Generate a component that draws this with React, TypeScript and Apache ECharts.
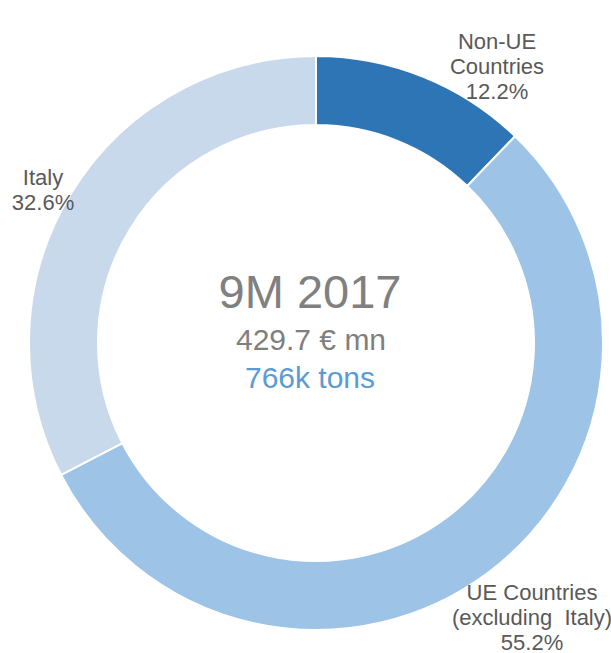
import React, { useEffect, useRef } from "react";
import * as echarts from "echarts";

const categories = ["Non-UE\nCountries", "UE Countries\n(excluding  Italy)", "Italy"];
const shares = [12.2, 55.2, 32.6];
const sliceColors = ["#2E75B6", "#9DC3E6", "#C9D9EC"];
const centerLines = ["9M 2017", "429.7 € mn", "766k tons"];

const labelSpots = [
  [497, 66],
  [532, 617],
  [43, 190],
];

export default function App() {
  const ref = useRef<HTMLDivElement>(null);
  useEffect(() => {
    document.body.style.margin = "0";
    const chart = echarts.init(ref.current!, null, { renderer: "svg" });
    chart.setOption({
      animation: false,
      backgroundColor: "#ffffff",
      series: [
        {
          type: "pie",
          center: [316, 343],
          radius: [218, 287],
          startAngle: 90,
          clockwise: true,
          silent: true,
          itemStyle: { borderColor: "#ffffff", borderWidth: 2 },
          label: {
            show: true,
            position: "outside",
            formatter: "{b}\n{c}%",
            color: "#595959",
            fontFamily: "Liberation Sans, Arial, sans-serif",
            fontSize: 22,
            lineHeight: 25,
            align: "center",
            overflow: "none",
            width: 300,
          },
          labelLine: { show: false },
          labelLayout: (params: any) => {
            const p = labelSpots[params.dataIndex];
            return { x: p[0], y: p[1], align: "center", verticalAlign: "middle" };
          },
          data: categories.map((name, i) => ({
            name,
            value: shares[i],
            itemStyle: { color: sliceColors[i] },
          })),
        },
      ],
      graphic: [
        {
          type: "text",
          x: 310,
          y: 291,
          style: {
            text: centerLines[0],
            fill: "#808080",
            font: "47px Liberation Sans, Arial, sans-serif",
            textAlign: "center",
            textVerticalAlign: "middle",
          },
        },
        {
          type: "text",
          x: 311,
          y: 339,
          style: {
            text: centerLines[1],
            fill: "#7F7F7F",
            font: "30px Liberation Sans, Arial, sans-serif",
            textAlign: "center",
            textVerticalAlign: "middle",
          },
        },
        {
          type: "text",
          x: 310,
          y: 377,
          style: {
            text: centerLines[2],
            fill: "#5B9BD5",
            font: "30px Liberation Sans, Arial, sans-serif",
            textAlign: "center",
            textVerticalAlign: "middle",
          },
        },
      ],
    });
    return () => chart.dispose();
  }, []);
  return <div ref={ref} style={{ width: 611, height: 653 }} />;
}
